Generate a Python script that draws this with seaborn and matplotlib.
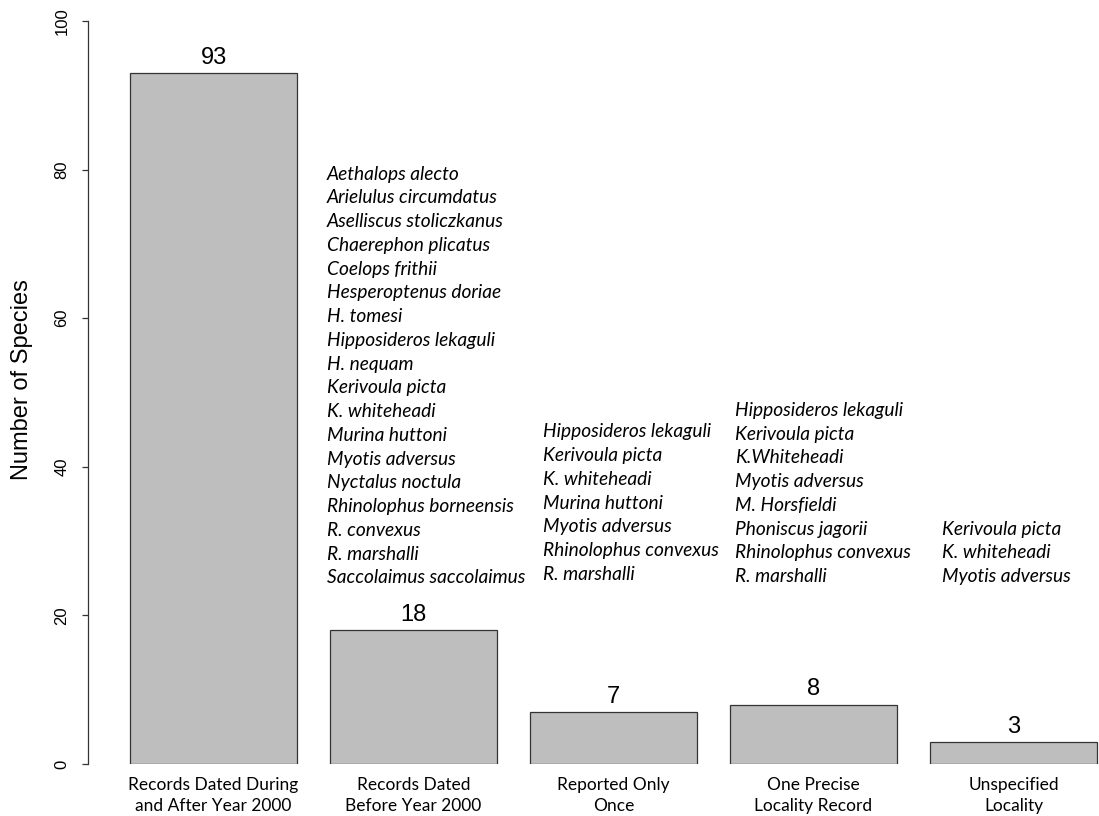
import matplotlib
matplotlib.use("Agg")
import matplotlib.pyplot as plt
import seaborn as sns

# ---------------- Data ----------------
categories = [
    "Records Dated During\nand After Year 2000",
    "Records Dated\nBefore Year 2000",
    "Reported Only\nOnce",
    "One Precise\nLocality Record",
    "Unspecified\nLocality",
]
counts = [93, 18, 7, 8, 3]

species_before_2000 = [
    "Aethalops alecto", "Arielulus circumdatus", "Aselliscus stoliczkanus",
    "Chaerephon plicatus", "Coelops frithii", "Hesperoptenus doriae",
    "H. tomesi", "Hipposideros lekaguli", "H. nequam", "Kerivoula picta",
    "K. whiteheadi", "Murina huttoni", "Myotis adversus", "Nyctalus noctula",
    "Rhinolophus borneensis", "R. convexus", "R. marshalli",
    "Saccolaimus saccolaimus",
]
species_once = [
    "Hipposideros lekaguli", "Kerivoula picta", "K. whiteheadi",
    "Murina huttoni", "Myotis adversus", "Rhinolophus convexus", "R. marshalli",
]
species_one_locality = [
    "Hipposideros lekaguli", "Kerivoula picta", "K.Whiteheadi",
    "Myotis adversus", "M. Horsfieldi", "Phoniscus jagorii",
    "Rhinolophus convexus", "R. marshalli",
]
species_unspecified = ["Kerivoula picta", "K. whiteheadi", "Myotis adversus"]

# where each list starts (x in bar units, y in species count units)
lists = [
    (0.5675, 79.4, species_before_2000),
    (1.6475, 44.7, species_once),
    (2.6075, 47.6, species_one_locality),
    (3.6425, 31.6, species_unspecified),
]

# ---------------- Plot ----------------
sns.set_style("white")
plt.rcParams["font.family"] = ["Liberation Sans", "DejaVu Sans"]
plt.rcParams["text.color"] = "black"
plt.rcParams["xtick.color"] = "black"
plt.rcParams["ytick.color"] = "black"

fig = plt.figure(figsize=(10.99, 8.16), dpi=100)
ax = fig.add_axes([88 / 1099, 52 / 816, 1011 / 1099, 743 / 816])

sns.barplot(x=categories, y=counts, color="#bebebe", saturation=1,
            edgecolor="#333333", linewidth=0.9, width=0.835, ax=ax)

ax.set_xlim(-0.6275, 4.4275)
ax.set_ylim(0, 100)
ax.set_yticks([0, 20, 40, 60, 80, 100])
for s in ["top", "right", "bottom"]:
    ax.spines[s].set_visible(False)
ax.spines["left"].set_color("#333333")
ax.spines["left"].set_linewidth(0.9)

ax.tick_params(axis="y", left=True, direction="out", length=4.5, width=0.9,
               color="#333333", labelcolor="black", pad=9, labelsize=12)
for lab in ax.get_yticklabels():
    lab.set_rotation(90)
    lab.set_va("center")

ax.tick_params(axis="x", bottom=False, length=0, pad=9.5, labelcolor="black")
for lab in ax.get_xticklabels():
    lab.set_fontfamily("Lato")
    lab.set_fontsize(12.5)
    lab.set_linespacing(1.4)

ax.set_xlabel("")
ax.set_ylabel("")
fig.text(22 / 1099, 1 - 379.5 / 816, "Number of Species", rotation=90,
         ha="center", va="center", fontsize=17, color="black")

# value labels
for i, v in enumerate(counts):
    ax.annotate(str(v), (i, v), xytext=(0, 3), textcoords="offset points",
                ha="center", va="bottom", fontsize=17, color="black")

# species lists
for x0, y0, names in lists:
    for k, name in enumerate(names):
        ax.annotate(name, (x0, y0), xytext=(0, -k * 17.1),
                    textcoords="offset points", ha="left", va="center",
                    fontsize=13.8, fontstyle="italic", family="Lato",
                    color="black")

fig.savefig("out.png", dpi=100)
